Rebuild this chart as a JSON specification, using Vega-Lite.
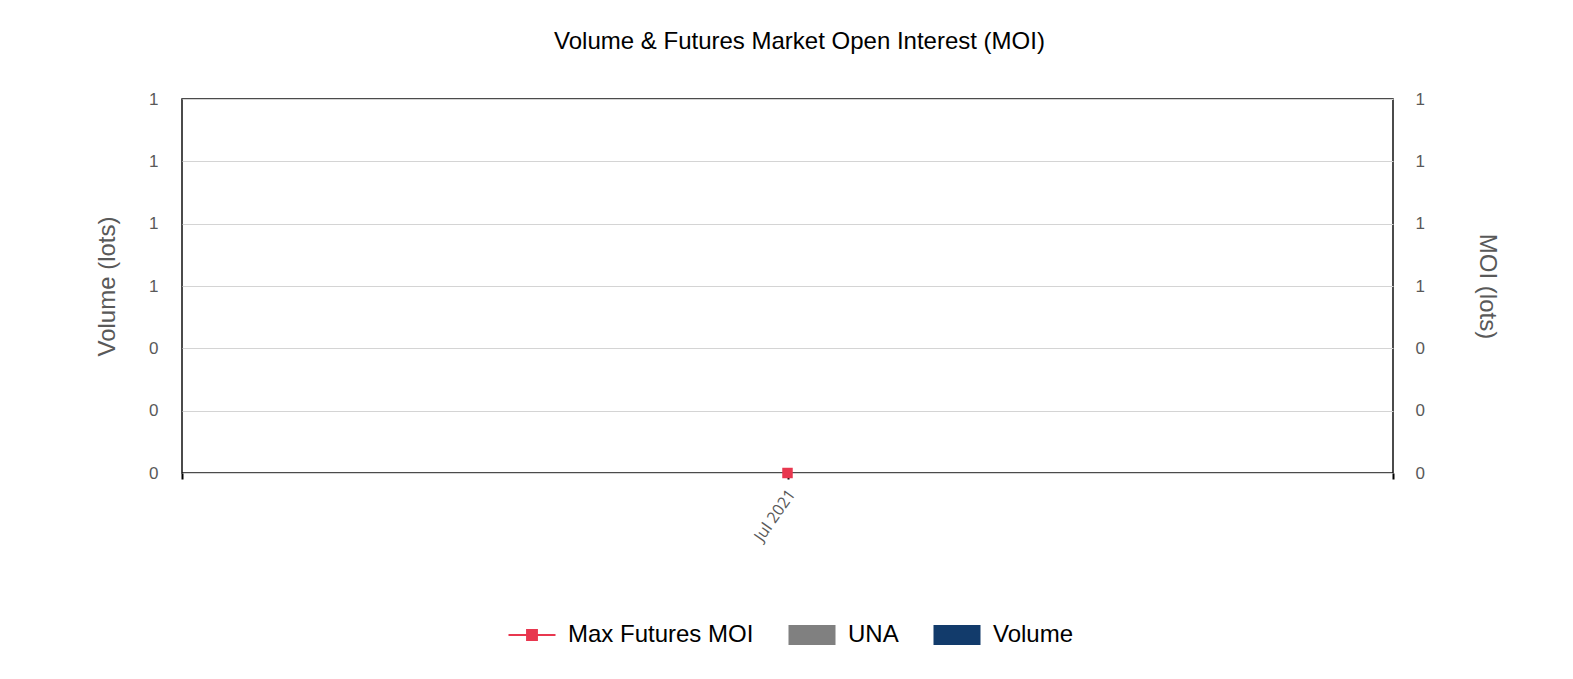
{
  "$schema": "https://vega.github.io/schema/vega-lite/v6.json",
  "width": 1211,
  "height": 374,
  "autosize": {"type": "none"},
  "padding": {"left": 182, "top": 99, "right": 180, "bottom": 206},
  "background": "white",
  "title": {
    "text": "Volume & Futures Market Open Interest (MOI)",
    "font": "Liberation Sans",
    "fontSize": 24,
    "fontWeight": "normal",
    "color": "#000",
    "anchor": "middle",
    "dx": 12,
    "offset": 36
  },
  "data": {
    "values": [
      {"month": "Jul 2021", "series": "Volume", "value": 0},
      {"month": "Jul 2021", "series": "UNA", "value": 0},
      {"month": "Jul 2021", "series": "Max Futures MOI", "value": 0}
    ]
  },
  "encoding": {
    "x": {
      "field": "month",
      "type": "ordinal",
      "scale": {"type": "point", "domain": [" ", "Jul 2021", "  "], "padding": 0},
      "axis": {
        "title": null,
        "labelAngle": -55,
        "labelFont": "Open Sans",
        "labelFontSize": 16,
        "labelColor": "#595959",
        "ticks": true,
        "tickColor": "#000",
        "tickWidth": 2,
        "tickSize": 6,
        "domain": false,
        "grid": false,
        "labelPadding": 12,
        "labelOffset": 4,
        "labelExpr": "datum.value == 'Jul 2021' ? datum.label : ''"
      }
    }
  },
  "layer": [
    {
      "transform": [{"filter": "datum.series != 'Max Futures MOI'"}],
      "mark": {"type": "bar", "width": 40},
      "encoding": {
        "y": {
          "field": "value",
          "type": "quantitative",
          "stack": "zero",
          "scale": {"domain": [0, 1.2]},
          "axis": {
            "orient": "left",
            "title": "Volume (lots)",
            "values": [0, 0.2, 0.4, 0.6, 0.8, 1, 1.2],
            "format": ".0f",
            "grid": true,
            "gridColor": "#d4d4d4",
            "gridWidth": 1,
            "domain": false,
            "ticks": false,
            "labelPadding": 24,
            "labelFont": "Liberation Sans",
            "labelFontSize": 17,
            "labelColor": "#595959",
            "titleFont": "Liberation Sans",
            "titleFontSize": 24,
            "titleFontWeight": "normal",
            "titleColor": "#595959",
            "titlePadding": 29
          }
        },
        "color": {
          "field": "series",
          "type": "nominal",
          "scale": {
            "domain": ["Max Futures MOI", "UNA", "Volume"],
            "range": ["#e8374f", "#808080", "#123b6b"]
          },
          "legend": {
            "title": null,
            "orient": "none",
            "direction": "horizontal",
            "legendX": 338,
            "legendY": 524,
            "padding": 0,
            "labelFont": "Liberation Sans",
            "labelFontSize": 24,
            "labelColor": "#000",
            "labelLimit": 400,
            "symbolSize": 2209,
            "labelOffset": 24,
            "columnPadding": 34,
            "encode": {
              "symbols": {
                "update": {
                  "shape": {"signal": "datum.value === 'Max Futures MOI' ? 'M-1,0H1M-0.21,-0.21H0.21V0.21H-0.21Z' : 'M-1,-0.43H1V0.43H-1Z'"},
                  "fill": {"signal": "scale('color', datum.value)"},
                  "stroke": {"signal": "scale('color', datum.value)"},
                  "strokeWidth": {"signal": "datum.value === 'Max Futures MOI' ? 2 : 0"},
                  "opacity": {"value": 1},
                  "fillOpacity": {"value": 1}
                }
              }
            }
          }
        }
      }
    },
    {
      "transform": [{"filter": "datum.series == 'Max Futures MOI'"}],
      "mark": {
        "type": "line",
        "color": "#e8374f",
        "strokeWidth": 2,
        "point": {"shape": "square", "size": 110, "filled": true, "color": "#e8374f", "opacity": 1}
      },
      "encoding": {
        "y": {
          "field": "value",
          "type": "quantitative",
          "scale": {"domain": [0, 1.2]},
          "axis": {
            "orient": "right",
            "title": "MOI (lots)",
            "values": [0, 0.2, 0.4, 0.6, 0.8, 1, 1.2],
            "format": ".0f",
            "grid": false,
            "domain": false,
            "ticks": false,
            "labelPadding": 22,
            "labelFont": "Liberation Sans",
            "labelFontSize": 17,
            "labelColor": "#595959",
            "titleFont": "Liberation Sans",
            "titleFontSize": 24,
            "titleFontWeight": "normal",
            "titleColor": "#595959",
            "titlePadding": 50
          }
        }
      }
    }
  ],
  "resolve": {"scale": {"y": "independent"}},
  "config": {
    "view": {"stroke": "#111", "strokeWidth": 1.5}
  }
}
